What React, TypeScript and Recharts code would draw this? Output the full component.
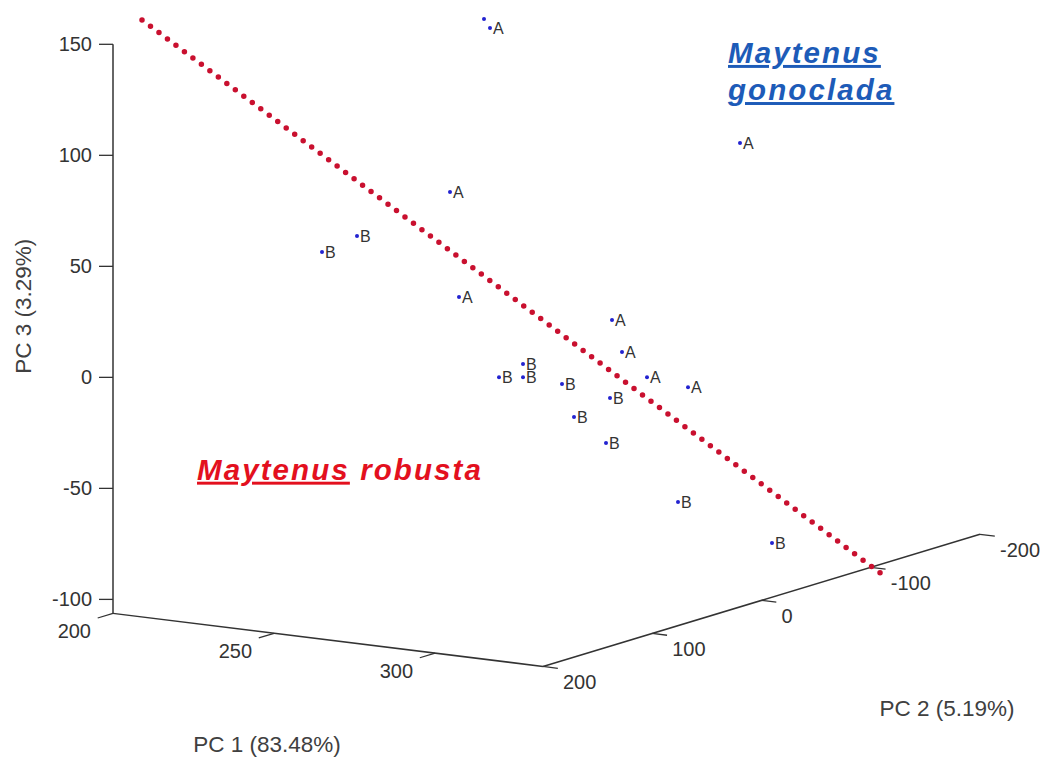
// 3D PCA score plot (PC1 / PC2 / PC3) drawn as a projected scatter chart.

import { ScatterChart, Scatter, XAxis, YAxis, ReferenceLine, ReferenceDot } from 'recharts';

const FONT = 'Arial, "Liberation Sans", sans-serif';

// samples: label, projected horizontal position (px from the PC3 axis), PC3 height
const sampleLabels = ['', 'A', 'A', 'A', 'B', 'B', 'A', 'A', 'A', 'B', 'B', 'B', 'A', 'A', 'B', 'B', 'B', 'B', 'B', 'B'];
const sampleX = [371, 377, 627, 337, 244, 209, 346, 499, 509, 410, 386, 410, 534, 575, 449, 497, 461, 493, 565, 659];
const samplePC3 = [161.4, 157.3, 105.6, 83.5, 63.7, 56.5, 36.2, 25.8, 11.4, 6, 0, 0, 0, -4.4, -3, -9.3, -17.9, -29.6, -56.1, -74.6];

const pc3Ticks = [-100, -50, 0, 50, 100, 150];
const pc1Ticks = [200, 250, 300];
const pc2Ticks = [200, 100, 0, -100, -200];

// separating line between the two species
const dividerX = [29, 774];
const dividerY = [161, -90.4];

const samples = sampleLabels.map((label, i) => ({ label, x: sampleX[i], y: samplePC3[i] }));

// floor of the 3D box: corners in chart units
const L = { x: 0, y: -106.3 };
const F = { x: 430, y: -130.2 };
const R = { x: 867, y: -70.7 };
const PC1_MIN = 200;
const PC1_MAX = 333.5;
const PC2_MAX = 200;
const PC2_SPAN = 400;

function floorPoint(pc1: number, pc2: number) {
  const a = (pc1 - PC1_MIN) / (PC1_MAX - PC1_MIN);
  const b = (PC2_MAX - pc2) / PC2_SPAN;
  return { x: L.x + a * (F.x - L.x) + b * (R.x - F.x), y: L.y + a * (F.y - L.y) + b * (R.y - F.y) };
}

const axisColor = '#333';

const textAt = (text: string, dx: number, dy: number, style: any = {}) => (p: any) => (
  <text x={p.cx + dx} y={p.cy + dy} fontFamily={FONT} fontSize={20} fill="#404040" {...style}>
    {text}
  </text>
);

const speciesStyle = {
  fontFamily: FONT,
  fontSize: 29.5,
  fontWeight: 'bold',
  fontStyle: 'italic',
  letterSpacing: 2.1,
};

const SampleShape = (p: any) => (
  <g>
    <circle cx={p.cx} cy={p.cy} r={2} fill="#2323d0" />
    <text x={p.cx + 3} y={p.cy + 6} fontFamily={FONT} fontSize={16} fill="#333">
      {p.payload.label}
    </text>
  </g>
);

export default function App() {
  return (
    <div style={{ position: 'absolute', left: 0, top: 0, width: 1046, height: 758, background: '#fff' }}>
      <ScatterChart width={1046} height={758} margin={{ top: 11, right: 3, bottom: 92, left: 0 }}>
        <XAxis type="number" dataKey="x" domain={[0, 930]} hide allowDataOverflow />
        <YAxis
          type="number"
          dataKey="y"
          domain={[-130, 165]}
          ticks={pc3Ticks}
          width={113}
          axisLine={false}
          tickSize={14}
          tickMargin={7}
          tickLine={{ stroke: axisColor, strokeWidth: 1.3 }}
          tick={{ fontSize: 20, fill: '#333', fontFamily: FONT }}
          allowDataOverflow
        />

        {/* PC3 axis line */}
        <ReferenceLine segment={[{ x: 0, y: L.y }, { x: 0, y: 150 }]} stroke={axisColor} strokeWidth={1.5} ifOverflow="visible" />
        {/* PC1 and PC2 floor axes */}
        <ReferenceLine segment={[L, F]} stroke={axisColor} strokeWidth={1.5} ifOverflow="visible" />
        <ReferenceLine segment={[F, R]} stroke={axisColor} strokeWidth={1.5} ifOverflow="visible" />

        {pc1Ticks.map((t) => (
          <ReferenceLine
            key={'p1' + t}
            segment={[floorPoint(t, PC2_MAX), floorPoint(t, PC2_MAX + 14)]}
            stroke={axisColor}
            strokeWidth={1.3}
            ifOverflow="visible"
          />
        ))}
        {pc1Ticks.map((t) => {
          const p = floorPoint(t, PC2_MAX);
          return (
            <ReferenceDot key={'l1' + t} x={p.x} y={p.y} r={0} ifOverflow="visible"
              shape={textAt(String(t), -22, 25, { textAnchor: 'end', fill: '#333' })} />
          );
        })}
        {pc2Ticks.map((t) => (
          <ReferenceLine
            key={'p2' + t}
            segment={[floorPoint(PC1_MAX, t), floorPoint(PC1_MAX + 4.6, t)]}
            stroke={axisColor}
            strokeWidth={1.3}
            ifOverflow="visible"
          />
        ))}
        {pc2Ticks.map((t) => {
          const p = floorPoint(PC1_MAX, t);
          return (
            <ReferenceDot key={'l2' + t} x={p.x} y={p.y} r={0} ifOverflow="visible"
              shape={textAt(String(t), 20, 23, { fill: '#333' })} />
          );
        })}

        {/* axis titles */}
        <ReferenceDot x={154} y={-165.4} r={0} ifOverflow="visible"
          shape={textAt('PC 1 (83.48%)', 0, 7, { textAnchor: 'middle', fontSize: 22.5 })} />
        <ReferenceDot x={834} y={-148.9} r={0} ifOverflow="visible"
          shape={textAt('PC 2 (5.19%)', 0, 8, { textAnchor: 'middle', fontSize: 22.5 })} />
        <ReferenceDot x={-90} y={32} r={0} ifOverflow="visible"
          shape={(p: any) => (
            <text x={p.cx} y={p.cy} transform={`rotate(-90 ${p.cx} ${p.cy})`} textAnchor="middle" dy={8}
              fontFamily={FONT} fontSize={22.5} fill="#404040">
              PC 3 (3.29%)
            </text>
          )} />

        {/* species annotations */}
        <ReferenceDot x={84} y={-46.1} r={0} ifOverflow="visible"
          shape={(p: any) => (
            <text x={p.cx} y={p.cy} {...speciesStyle} fill="#e3101e">
              <tspan textDecoration="underline">Maytenus</tspan> robusta
            </text>
          )} />
        <ReferenceDot x={615} y={141.6} r={0} ifOverflow="visible"
          shape={(p: any) => (
            <text x={p.cx} y={p.cy} {...speciesStyle} fill="#1d5bb8" textDecoration="underline">
              Maytenus
            </text>
          )} />
        <ReferenceDot x={615} y={124.9} r={0} ifOverflow="visible"
          shape={(p: any) => (
            <text x={p.cx} y={p.cy} {...speciesStyle} fill="#1d5bb8" textDecoration="underline">
              gonoclada
            </text>
          )} />

        {/* red dotted divider */}
        <ReferenceLine
          segment={[{ x: dividerX[0], y: dividerY[0] }, { x: dividerX[1], y: dividerY[1] }]}
          stroke="#c9102f"
          strokeWidth={5.5}
          strokeDasharray="0 10.6"
          strokeLinecap="round"
          ifOverflow="visible"
        />

        <Scatter data={samples} shape={SampleShape} isAnimationActive={false} />
      </ScatterChart>
    </div>
  );
}
